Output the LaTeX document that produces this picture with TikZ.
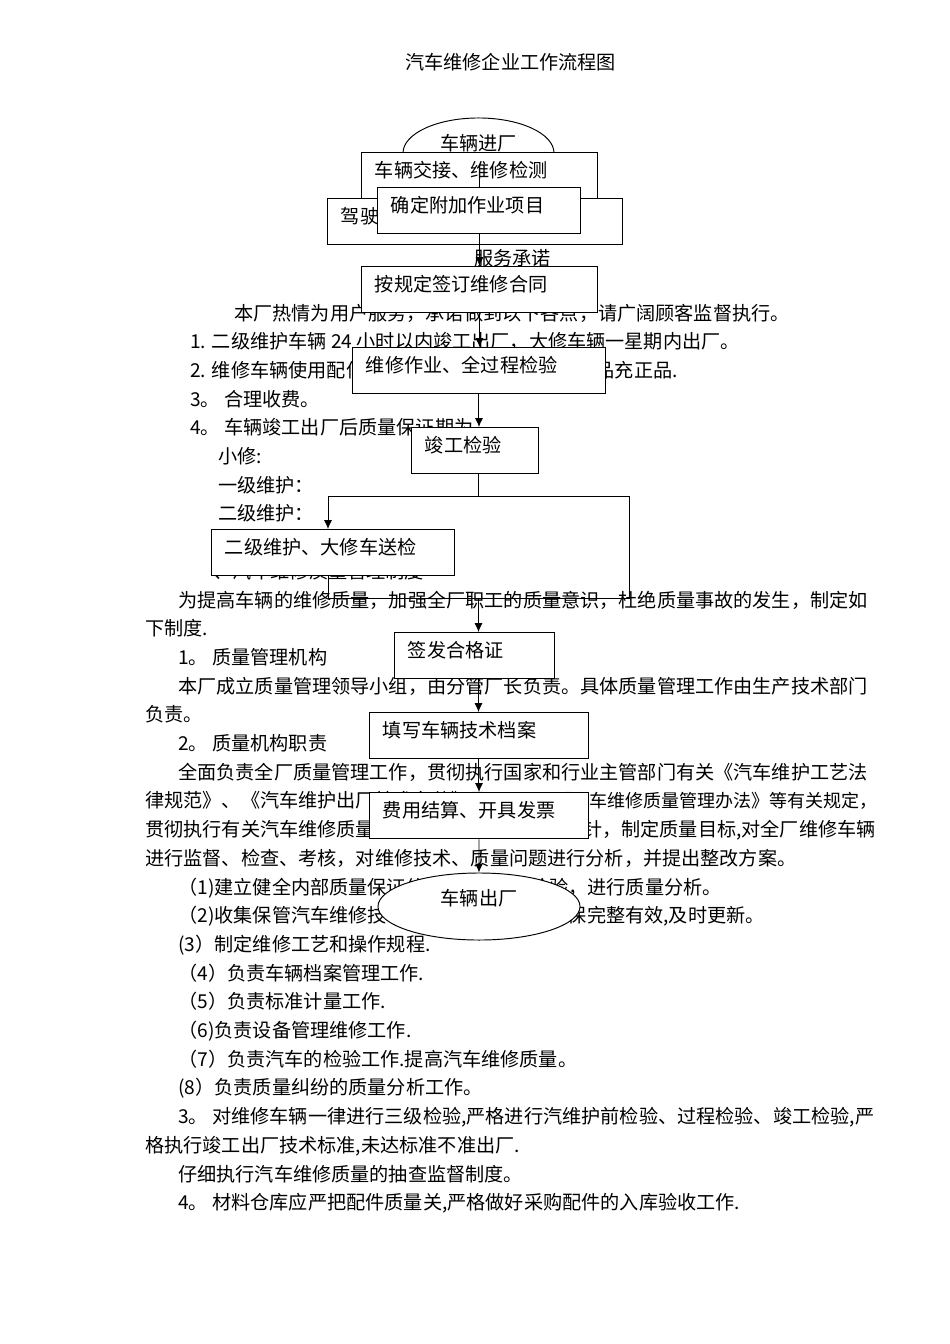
\documentclass[tikz,border=0pt]{standalone}
\usepackage{fontspec}
\setmainfont{Noto Sans CJK SC}
\usetikzlibrary{shapes.geometric,arrows.meta}

\tikzset{
  txt/.style={anchor=base west, inner sep=0pt, font=\fontsize{12}{14}\selectfont},
  txtr/.style={txt, anchor=base east},
  flowbox/.style={draw, fill=white, line width=0.6pt, anchor=north west, align=left,
    inner xsep=8.46pt, inner ysep=0pt, text height=15.5pt, text depth=13.6pt,
    font=\fontsize{12}{14}\selectfont, text width=#1},
  endbox/.style={draw, fill=white, line width=0.6pt, ellipse, inner sep=0pt,
    font=\fontsize{12}{14}\selectfont},
  link/.style={line width=0.6pt}
}

\begin{document}
\begin{tikzpicture}[x=0.6266pt, y=-0.6266pt, >={Latex[length=5.5pt,width=5pt]}]

	\fill[white] (0,0) rectangle (950,1344);
	\useasboundingbox (0,0) rectangle (950,1344);

	% page text
	\node[txt] (title) at (405,69.5) {汽车维修企业工作流程图};
	\node[txt] (fuwu) at (474,265) {服务承诺};

	\node[txt] (l0) at (234,320) {本厂热情为用户服务，承诺做到以下各点，请广阔顾客监督执行。};
	\node[txt] (l1) at (190,348.7) {1. 二级维护车辆 24 小时以内竣工出厂，大修车辆一星期内出厂。};
	\node[txt] (l2) at (190,377.4) {2. 维修车辆使用配件保证质量，};
	\node[txtr] (l2r) at (678,377.4) {不以次品充正品.};
	\node[txt] (l3) at (190,406.1) {3。 合理收费。};
	\node[txt] (l4) at (190,434.8) {4。 车辆竣工出厂后质量保证期为};
	\node[txt] (l5) at (218,463.5) {小修:};
	\node[txt] (l6) at (218,492.2) {一级维护：};
	\node[txt] (l7) at (218,520.9) {二级维护：};
	\node[txt] (l9) at (213,578.3) {、汽车维修质量管理制度};
	\node[txt] (l10) at (178,607) {为提高车辆的维修质量，加强全厂职工的质量意识，杜绝质量事故的发生，制定如};
	\node[txt] (l11) at (145,635.7) {下制度.};
	\node[txt] (l12) at (178,664.4) {1。 质量管理机构};
	\node[txt] (l13) at (178,693.1) {本厂成立质量管理领导小组，由分管厂长负责。具体质量管理工作由生产技术部门};
	\node[txt] (l14) at (145,721.8) {负责。};
	\node[txt] (l15) at (178,750.5) {2。 质量机构职责};
	\node[txt] (l16) at (178,779.2) {全面负责全厂质量管理工作，贯彻执行国家和行业主管部门有关《汽车维护工艺法};
	\node[txt] (l17) at (145,807.9) {律规范》、《汽车维护出厂技术条件》及};
	\node[txtr, font=\fontsize{11.3}{14}\selectfont] (l17r) at (878,807.9) {《汽车维修质量管理办法》等有关规定，};
	\node[txt] (l18) at (145,836.6) {贯彻执行有关汽车维修质量管理};
	\node[txtr] (l18r) at (876,836.6) {方针，制定质量目标,对全厂维修车辆};
	\node[txt] (l19) at (145,865.3) {进行监督、检查、考核，对维修技术、质量问题进行分析，并提出整改方案。};
	\node[txt] (l20) at (178,894) {（1)建立健全内部质量保证体系，};
	\node[txtr] (l20r) at (722,894) {坚持三级检验，进行质量分析。};
	\node[txt] (l21) at (178,922.7) {（2)收集保管汽车维修技术资料，};
	\node[txtr] (l21r) at (765,922.7) {确保完整有效,及时更新。};
	\node[txt] (l22) at (178,951.4) {(3）制定维修工艺和操作规程.};
	\node[txt] (l23) at (178,980.1) {（4）负责车辆档案管理工作.};
	\node[txt] (l24) at (178,1008.8) {（5）负责标准计量工作.};
	\node[txt] (l25) at (178,1037.5) {（6)负责设备管理维修工作.};
	\node[txt] (l26) at (178,1066.2) {（7）负责汽车的检验工作.提高汽车维修质量。};
	\node[txt] (l27) at (178,1094.9) {(8）负责质量纠纷的质量分析工作。};
	\node[txt] (l28) at (178,1123.6) {3。 对维修车辆一律进行三级检验,严格进行汽维护前检验、过程检验、竣工检验,严};
	\node[txt] (l29) at (145,1152.3) {格执行竣工出厂技术标准,未达标准不准出厂.};
	\node[txt] (l30) at (178,1181) {仔细执行汽车维修质量的抽查监督制度。};
	\node[txt] (l31) at (178,1209.7) {4。 材料仓库应严把配件质量关,严格做好采购配件的入库验收工作.};

	% flow chart
	\node[endbox, minimum width=94.6pt, minimum height=43.9pt, text height=7pt, text depth=10.4pt]
		(jinchang) at (478.5,153) {车辆进厂};
	\node[flowbox=167.9pt] (jiashi) at (327,198) {驾驶};
	\node[flowbox=130.96pt] (jiaojie) at (361,152) {车辆交接、维修检测};
	\node[flowbox=130.96pt] (hetong) at (361,266) {按规定签订维修合同};
	\draw[link,->] (jiaojie.center) -- (hetong.north);
	\node[flowbox=110.3pt] (queding) at (377,187) {确定附加作业项目};
	\node[flowbox=141.6pt] (zuoye) at (352,347) {维修作业、全过程检验};
	\node[flowbox=62.66pt] (jungong) at (411,427) {竣工检验};
	\node[flowbox=135.3pt] (songjian) at (211,529) {二级维护、大修车送检};
	\node[flowbox=83.3pt] (hege) at (394,632) {签发合格证};
	\node[flowbox=120.3pt] (dangan) at (369,712) {填写车辆技术档案};
	\node[flowbox=120.3pt] (jiesuan) at (369,792) {费用结算、开具发票};
	\node[endbox, minimum width=126.6pt, minimum height=42pt, text height=8pt, text depth=9.5pt]
		(chuchang) at (479,906.5) {车辆出厂};

	\coordinate (fork) at (478.5,496);
	\coordinate (lft) at (328,496);
	\coordinate (rgt) at (629,496);
	\coordinate (join) at (478.5,598);

	\draw[link,->] (hetong.south) -- (hetong.south |- zuoye.north);
	\draw[link,->] (zuoye.south) -- (zuoye.south |- jungong.north);
	\draw[link] (fork |- jungong.south) -- (fork);
	\draw[link,->] (rgt) -- (lft) -- (lft |- songjian.north);
	\draw[link] (lft |- songjian.south) -- (lft |- join) -- (rgt |- join) -- (rgt);
	\draw[link,->] (join) -- (join |- hege.north);
	\draw[link,->] (join |- hege.south) -- (join |- dangan.north);
	\draw[link,->] (dangan.south) -- (jiesuan.north);
	\draw[link,->] (jiesuan.south) -- (chuchang.north);

\end{tikzpicture}
\end{document}
